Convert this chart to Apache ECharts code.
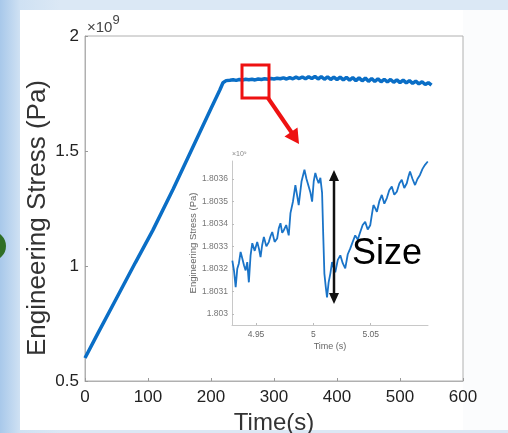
<!DOCTYPE html>
<html>
<head>
<meta charset="utf-8">
<script src="https://cdn.jsdelivr.net/npm/echarts@6/dist/echarts.min.js"></script>
<style>
html,body{margin:0;padding:0;}
body{width:508px;height:433px;background:linear-gradient(90deg,#a8c8ea 0px,#cfe1f3 20px,#dbe8f5 60px);}
#c{width:508px;height:433px;}
</style>
</head>
<body>
<div id="c"></div>
<script>
// Main curve (time in s, stress in units of 1e9 Pa)
var mainTime = [0, 20, 50, 80, 108, 140, 170, 200, 214, 219, 224, 230, 235, 240, 245, 250, 255, 260, 265, 270, 275, 280, 285, 290, 295, 300, 305, 310, 315, 320, 325, 330, 335, 340, 345, 350, 355, 360, 365, 370, 375, 380, 385, 390, 395, 400, 405, 410, 415, 420, 425, 430, 435, 440, 445, 450, 455, 460, 465, 470, 475, 480, 485, 490, 495, 500, 505, 510, 515, 520, 525, 530, 535, 540, 545, 550];
var mainStress = [0.600, 0.705, 0.860, 1.015, 1.157, 1.335, 1.510, 1.685, 1.765, 1.797, 1.806, 1.808, 1.810, 1.807, 1.811, 1.809, 1.812, 1.810, 1.812, 1.809, 1.813, 1.811, 1.814, 1.812, 1.815, 1.813, 1.816, 1.814, 1.818, 1.813, 1.819, 1.814, 1.821, 1.815, 1.822, 1.814, 1.823, 1.815, 1.824, 1.813, 1.823, 1.812, 1.822, 1.811, 1.821, 1.810, 1.821, 1.809, 1.820, 1.808, 1.819, 1.806, 1.818, 1.805, 1.817, 1.803, 1.815, 1.802, 1.814, 1.801, 1.812, 1.800, 1.811, 1.799, 1.809, 1.797, 1.808, 1.796, 1.806, 1.794, 1.804, 1.792, 1.801, 1.789, 1.797, 1.786];

// Inset (zoomed) curve
var insetTime = [4.9293, 4.9308, 4.9322, 4.9336, 4.9350, 4.9365, 4.9380, 4.9395, 4.9409, 4.9423, 4.9437, 4.9452, 4.9467, 4.9488, 4.9510, 4.9525, 4.9539, 4.9553, 4.9568, 4.9590, 4.9611, 4.9626, 4.9641, 4.9662, 4.9684, 4.9698, 4.9713, 4.9728, 4.9742, 4.9763, 4.9785, 4.9800, 4.9822, 4.9843, 4.9857, 4.9872, 4.9897, 4.9922, 4.9940, 4.9959, 4.9974, 4.9989, 5.0003, 5.0017, 5.0032, 5.0046, 5.0061, 5.0076, 5.0086, 5.0096, 5.0108, 5.0119, 5.0133, 5.0148, 5.0163, 5.0177, 5.0191, 5.0213, 5.0235, 5.0256, 5.0278, 5.0300, 5.0322, 5.0343, 5.0365, 5.0387, 5.0409, 5.0430, 5.0452, 5.0474, 5.0496, 5.0510, 5.0524, 5.0539, 5.0554, 5.0575, 5.0597, 5.0619, 5.0641, 5.0662, 5.0684, 5.0706, 5.0728, 5.0750, 5.0771, 5.0793, 5.0815, 5.0829, 5.0843, 5.0865, 5.0887, 5.0908, 5.0930, 5.0952, 5.0974, 5.0998];
var insetStress = [1.803237, 1.803190, 1.803118, 1.803200, 1.803224, 1.803275, 1.803246, 1.803215, 1.803193, 1.803230, 1.803140, 1.803260, 1.803314, 1.803280, 1.803319, 1.803290, 1.803252, 1.803305, 1.803342, 1.803300, 1.803319, 1.803345, 1.803364, 1.803320, 1.803335, 1.803380, 1.803403, 1.803360, 1.803372, 1.803395, 1.803349, 1.803448, 1.803500, 1.803573, 1.803530, 1.803484, 1.803590, 1.803641, 1.803600, 1.803566, 1.803540, 1.803499, 1.803590, 1.803627, 1.803600, 1.803581, 1.803605, 1.803538, 1.803350, 1.803179, 1.803120, 1.803073, 1.803140, 1.803179, 1.803230, 1.803205, 1.803185, 1.803240, 1.803260, 1.803225, 1.803202, 1.803265, 1.803291, 1.803320, 1.803349, 1.803330, 1.803364, 1.803395, 1.803409, 1.803375, 1.803394, 1.803440, 1.803484, 1.803470, 1.803454, 1.803500, 1.803529, 1.803490, 1.803515, 1.803550, 1.803566, 1.803530, 1.803543, 1.803580, 1.803596, 1.803560, 1.803581, 1.803610, 1.803633, 1.803600, 1.803573, 1.803600, 1.803618, 1.803645, 1.803663, 1.803678];

var mainXTicks = [0, 100, 200, 300, 400, 500, 600];
var mainYTicks = [0.5, 1, 1.5, 2];
var insetXTicks = [4.95, 5, 5.05];
var insetYTicks = [1.803, 1.8031, 1.8032, 1.8033, 1.8034, 1.8035, 1.8036];

var FONT = 'Liberation Sans, Arial, sans-serif';
var chart = echarts.init(document.getElementById('c'), null, {renderer: 'canvas'});

function pairs(xs, ys) { return xs.map(function (x, i) { return [x, ys[i]]; }); }
function fmt4(v) { return String(parseFloat((+v).toFixed(4))); }

chart.setOption({
  animation: false,
  backgroundColor: 'transparent',
  graphic: [
    {type: 'rect', z: -10, silent: true, shape: {x: 20, y: 10, width: 488, height: 420}, style: {fill: '#ffffff'}},
    {type: 'rect', z: -9, silent: true, shape: {x: 463, y: 10, width: 45, height: 420}, style: {fill: '#fbfcfd'}},
    {type: 'circle', z: -8, silent: true, shape: {cx: -9, cy: 246, r: 15}, style: {fill: '#2f6e25'}},
    // main y-axis title
    {type: 'text', x: 38, y: 218, rotation: Math.PI / 2, style: {text: 'Engineering Stress (Pa)', font: '26px ' + FONT, fill: '#333', align: 'center', verticalAlign: 'middle'}},
    // x10^9 labels
    {type: 'text', left: 87, top: 14, style: {text: '{a|×10}{b|9}', rich: {a: {font: '15px ' + FONT, fill: '#444', verticalAlign: 'bottom'}, b: {font: '13px ' + FONT, fill: '#444', verticalAlign: 'top', padding: [0, 0, 8, 0]}}}},
    {type: 'text', left: 232, top: 151, style: {text: '×10⁹', font: '7px ' + FONT, fill: '#888'}},
    // red zoom rectangle and arrow
    {type: 'rect', z: 50, shape: {x: 242, y: 65, width: 27, height: 33}, style: {fill: 'none', stroke: '#ee1111', lineWidth: 3}},
    {type: 'line', z: 50, shape: {x1: 268, y1: 98, x2: 292, y2: 133}, style: {stroke: '#ee1111', lineWidth: 4}},
    {type: 'polygon', z: 50, shape: {points: [[299, 144], [284.5, 136.5], [297.5, 127.5]]}, style: {fill: '#ee1111'}},
    // black double arrow
    {type: 'line', z: 50, shape: {x1: 334, y1: 178, x2: 334, y2: 296}, style: {stroke: '#111', lineWidth: 2.5}},
    {type: 'polygon', z: 50, shape: {points: [[334, 170], [329, 181], [339, 181]]}, style: {fill: '#111'}},
    {type: 'polygon', z: 50, shape: {points: [[334, 304], [329, 293], [339, 293]]}, style: {fill: '#111'}},
    {type: 'text', z: 50, left: 352, top: 236, style: {text: 'Size', font: '36px ' + FONT, fill: '#000'}}
  ],
  grid: [
    {left: 85, top: 36, width: 378, height: 345, show: true, borderColor: '#b0b0b0', borderWidth: 1, backgroundColor: 'transparent', containLabel: false, outerBoundsMode: 'none'},
    {left: 232, top: 161, width: 196, height: 164, show: false, containLabel: false, outerBoundsMode: 'none'}
  ],
  xAxis: [
    {
      gridIndex: 0, type: 'value', min: 0, max: 600, interval: 100,
      name: 'Time(s)', nameLocation: 'middle', nameGap: 21,
      nameTextStyle: {fontFamily: FONT, fontSize: 24, color: '#333'},
      axisLine: {show: true, lineStyle: {color: '#b0b0b0'}},
      axisTick: {show: true, inside: true, length: 3, lineStyle: {color: '#999'}},
      axisLabel: {fontFamily: FONT, fontSize: 17, color: '#222', margin: 8, customValues: mainXTicks},
      splitLine: {show: false}
    },
    {
      gridIndex: 1, type: 'value', min: 4.929, max: 5.1,
      name: 'Time (s)', nameLocation: 'middle', nameGap: 17,
      nameTextStyle: {fontFamily: FONT, fontSize: 9, color: '#666'},
      axisLine: {show: true, lineStyle: {color: '#c8c8c8'}},
      axisTick: {show: true, inside: true, length: 2, lineStyle: {color: '#bbb'}, customValues: insetXTicks},
      axisLabel: {fontFamily: FONT, fontSize: 8.5, color: '#666', margin: 5, customValues: insetXTicks, formatter: fmt4},
      splitLine: {show: false}
    }
  ],
  yAxis: [
    {
      gridIndex: 0, type: 'value', min: 0.5, max: 2, interval: 0.5,
      axisLine: {show: true, lineStyle: {color: '#b0b0b0'}},
      axisTick: {show: true, inside: true, length: 3, lineStyle: {color: '#999'}},
      axisLabel: {fontFamily: FONT, fontSize: 17, color: '#222', margin: 6, customValues: mainYTicks},
      splitLine: {show: false}
    },
    {
      gridIndex: 1, type: 'value', min: 1.80295, max: 1.80368,
      name: 'Engineering Stress (Pa)', nameLocation: 'middle', nameGap: 32,
      nameTextStyle: {fontFamily: FONT, fontSize: 9.5, color: '#666'},
      axisLine: {show: true, lineStyle: {color: '#c8c8c8'}},
      axisTick: {show: true, inside: true, length: 2, lineStyle: {color: '#bbb'}, customValues: insetYTicks},
      axisLabel: {fontFamily: FONT, fontSize: 8.5, color: '#777', margin: 4, customValues: insetYTicks, formatter: fmt4},
      splitLine: {show: false}
    }
  ],
  series: [
    {type: 'line', xAxisIndex: 0, yAxisIndex: 0, data: pairs(mainTime, mainStress), showSymbol: false, lineStyle: {color: '#0a6ec6', width: 3.5}, z: 5},
    {type: 'line', xAxisIndex: 1, yAxisIndex: 1, data: pairs(insetTime, insetStress), showSymbol: false, lineStyle: {color: '#1a74c8', width: 1.8}, z: 5}
  ]
});
</script>
</body>
</html>
